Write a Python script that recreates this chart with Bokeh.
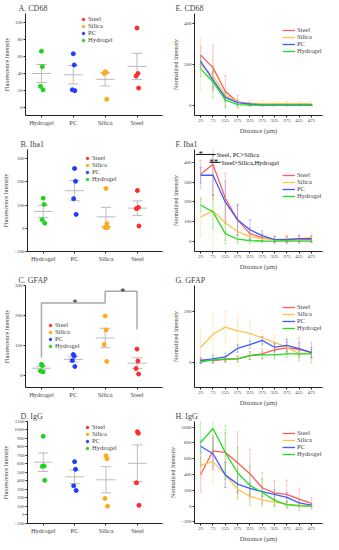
import numpy as np
from bokeh.plotting import figure
from bokeh.models import Range1d, FixedTicker, Legend, LegendItem
from bokeh.layouts import column, row
from bokeh.embed import file_html
from bokeh.resources import INLINE
from bokeh.core.properties import value

# ---------------- data ----------------
CATEGORIES = ["Hydrogel", "PC", "Silica", "Steel"]
SERIES = ["Steel", "Silica", "PC", "Hydrogel"]
DISTANCE = [25, 75, 125, 175, 225, 275, 325, 375, 425, 475]

# fluorescence intensity, individual animals (order follows CATEGORIES)
CD68_PTS = [[66, 48, 25, 21], [63, 50, 21, 20], [42, 41, 40, 10], [93, 40, 37, 23]]
IBA1_PTS = [[130, 103, 37, 22], [258, 203, 128, 60], [172, 20, 3, 3], [163, 90, 85, 10]]
GFAP_PTS = [[37, 33, 15, 12], [70, 65, 50, 30], [198, 152, 103, 47], [88, 48, 23, 5]]
IGG_PTS = [[925, 575, 570, 405], [625, 535, 340, 285], [695, 660, 190, 100], [980, 960, 375, 110]]

# significance brackets in GFAP panel
GFAP_SIG_FROM = [1, 3]
GFAP_SIG_TO = [3, 4]
GFAP_SIG_Y = [242, 281]
GFAP_SIG_FOOT_L = [60, 242]
GFAP_SIG_FOOT_R = [242, 153]
GFAP_SIG_STAR = ["*", "*"]

# normalized intensity vs distance (order follows SERIES)
CD68_NORM = [[245, 185, 70, 18, 5, 3, 3, 3, 3, 3],
             [200, 145, 50, 18, 12, 10, 10, 10, 10, 10],
             [215, 125, 40, 15, 8, 4, 3, 3, 3, 3],
             [180, 115, 28, 5, 3, 2, 2, 2, 2, 2]]
CD68_ERR = [[45, 110, 76, 32, 8, 5, 4, 4, 4, 4],
            [130, 80, 25, 15, 15, 15, 10, 10, 10, 10],
            [30, 40, 20, 10, 6, 4, 3, 3, 3, 3],
            [40, 78, 40, 10, 5, 3, 3, 3, 3, 3]]

IBA1_NORM = [[340, 390, 220, 110, 40, 20, 10, 8, 10, 10],
             [125, 155, 95, 50, 25, 15, 10, 15, 15, 20],
             [335, 335, 200, 110, 60, 30, 10, 10, 15, 15],
             [185, 150, 40, 12, 5, 3, 2, 2, 2, 2]]
IBA1_ERR = [[70, 175, 125, 80, 30, 20, 15, 20, 20, 15],
            [100, 250, 90, 60, 40, 25, 20, 20, 25, 25],
            [40, 100, 105, 75, 50, 25, 15, 15, 15, 15],
            [33, 85, 50, 15, 8, 5, 5, 5, 5, 5]]
IBA1_SIG_LABEL = ["Steel, PC>Silica", "Steel>Silica,Hydrogel"]
IBA1_SIG_STAR = ["*", "**"]
IBA1_SIG_STAR_X = [25, 78]
IBA1_SIG_X0 = [5, 61]
IBA1_SIG_X1 = [86, 106]
IBA1_SIG_Y = [440, 400]

GFAP_NORM = [[8, 5, 10, 12, 25, 32, 48, 55, 50, 38],
             [58, 109, 137, 122, 112, 95, 77, 58, 32, 36],
             [5, 12, 20, 53, 68, 85, 58, 65, 52, 37],
             [0, 8, 12, 12, 25, 28, 28, 32, 32, 32]]
GFAP_ERR = [[10, 10, 12, 12, 15, 20, 22, 25, 45, 40],
            [65, 80, 62, 58, 47, 30, 30, 30, 25, 20],
            [10, 15, 15, 15, 15, 15, 15, 25, 25, 20],
            [8, 10, 10, 12, 15, 15, 15, 15, 15, 15]]

IGG_NORM = [[400, 696, 680, 548, 410, 232, 167, 148, 87, 34],
            [517, 563, 395, 213, 125, 80, 50, 23, 11, 0],
            [757, 662, 395, 278, 224, 183, 148, 110, 42, 11],
            [802, 981, 680, 422, 262, 175, 72, 19, 4, 0]]
IGG_ERR = [[220, 200, 250, 390, 305, 190, 160, 180, 140, 75],
           [150, 270, 160, 130, 80, 60, 40, 30, 20, 10],
           [80, 200, 160, 100, 80, 60, 60, 60, 40, 20],
           [300, 265, 340, 320, 250, 170, 80, 30, 15, 5]]

# ---------------- style ----------------
FONT = "Liberation Serif"
DOT_COLORS = {"Steel": "#FF2A2A", "Silica": "#FFAA1A", "PC": "#1F3CFF", "Hydrogel": "#1FD21F"}
LINE_COLORS = {"Steel": "#FF5C5C", "Silica": "#FFC24D", "PC": "#3D5CFF", "Hydrogel": "#22DD22"}
JITTER = np.array([0.0, 0.03, -0.03, 0.05])
LW, RW = 166, 157
FRAME_H = 102


def style(p, title_offset):
    p.outline_line_color = None
    p.grid.visible = False
    p.title.text_font = FONT
    p.title.text_font_size = "8px"
    p.title.text_font_style = "normal"
    p.title.offset = title_offset
    p.title.standoff = 2
    for ax in p.axis:
        ax.axis_line_color = "#222222"
        ax.major_tick_line_color = "#222222"
        ax.minor_tick_line_color = None
        ax.major_tick_out = 2
        ax.major_tick_in = 0
        ax.major_label_text_font = FONT
        ax.major_label_text_font_size = "5px"
        ax.major_label_standoff = 1
        ax.axis_label_text_font = FONT
        ax.axis_label_text_font_style = "normal"
        ax.axis_label_text_font_size = "6px"
        ax.axis_label_standoff = 2


def make_legend(p, renderers, loc, glyph_w):
    items = [LegendItem(label=s, renderers=[renderers[s]]) for s in SERIES]
    lg = Legend(items=items, location=loc, background_fill_alpha=0, border_line_color=None,
                label_text_font=FONT, label_text_font_size="6.5px", label_height=6,
                glyph_height=6, glyph_width=glyph_w, spacing=0, padding=0, margin=0,
                label_standoff=2)
    p.add_layout(lg)


def left_panel(title, pts, yr, yticks, loc):
    p = figure(width=LW, frame_height=FRAME_H, x_range=Range1d(0.5, 4.8), y_range=Range1d(*yr),
               output_backend="svg", toolbar_location=None, title=title,
               min_border_left=20, min_border_right=4, min_border_top=0, min_border_bottom=0)
    style(p, -7)
    rends = {}
    for ci, cat in enumerate(CATEGORIES):
        vals = np.array(pts[ci], dtype=float)
        c = ci + 1
        m = vals.mean()
        s = vals.std(ddof=1) / np.sqrt(len(vals))
        p.segment([c - 0.3, c, c - 0.16, c - 0.16], [m, m - s, m - s, m + s],
                  [c + 0.3, c, c + 0.16, c + 0.16], [m, m + s, m - s, m + s],
                  line_color="#BBBBBB", line_width=1)
        rends[cat] = p.scatter(c + JITTER[:len(vals)], vals, size=4,
                               fill_color=DOT_COLORS[cat], line_color=DOT_COLORS[cat])
    p.xaxis.ticker = FixedTicker(ticks=[1, 2, 3, 4])
    p.xaxis.major_label_overrides = {i + 1: c for i, c in enumerate(CATEGORIES)}
    p.xaxis.major_label_text_font_size = "6.5px"
    p.yaxis.ticker = FixedTicker(ticks=yticks)
    p.yaxis.axis_label = "Fluorescence Intensity"
    make_legend(p, rends, loc, 6)
    return p


def right_panel(title, vals, errs, yr, yticks, loc):
    p = figure(width=RW, frame_height=FRAME_H, x_range=Range1d(0, 520), y_range=Range1d(*yr),
               output_backend="svg", toolbar_location=None, title=title,
               min_border_left=28, min_border_right=1, min_border_top=0, min_border_bottom=0)
    style(p, -19)
    x = np.array(DISTANCE, dtype=float)
    for si, s in enumerate(SERIES):
        v = np.array(vals[si], dtype=float)
        e = np.array(errs[si], dtype=float)
        col = LINE_COLORS[s]
        p.segment(x, v - e, x, v + e, line_color=col, line_alpha=0.35, line_width=1)
        p.segment(x - 5, v - e, x + 5, v - e, line_color=col, line_alpha=0.35, line_width=1)
        p.segment(x - 5, v + e, x + 5, v + e, line_color=col, line_alpha=0.35, line_width=1)
    rends = {}
    for si, s in enumerate(SERIES):
        rends[s] = p.line(DISTANCE, vals[si], line_color=LINE_COLORS[s], line_width=1.3)
    p.xaxis.ticker = FixedTicker(ticks=DISTANCE)
    p.yaxis.ticker = FixedTicker(ticks=yticks)
    p.xaxis.axis_label = "Distance (µm)"
    p.xaxis.axis_label_text_font_size = "6.5px"
    p.yaxis.axis_label = "Normalized Intensity"
    make_legend(p, rends, loc, 13)
    return p


pA = left_panel("A. CD68", CD68_PTS, (-9, 110), [0, 20, 40, 60, 80, 100], (55, 72))
pB = left_panel("B. Iba1", IBA1_PTS, (-100, 340), [-100, 0, 100, 200, 300], (57, 69))
pC = left_panel("C. GFAP", GFAP_PTS, (-40, 300), [0, 100, 200, 300], (22, 38))
pD = left_panel("D. IgG", IGG_PTS, (-105, 1100), list(range(-100, 1101, 100)), (57, 72))

for x0, x1, yb, fl, fr, st in zip(GFAP_SIG_FROM, GFAP_SIG_TO, GFAP_SIG_Y,
                                  GFAP_SIG_FOOT_L, GFAP_SIG_FOOT_R, GFAP_SIG_STAR):
    pC.line([x0, x0, x1, x1], [fl, yb, yb, fr], line_color="#AAAAAA", line_width=1.5)
    pC.text([(x0 + x1) / 2 + 0.05], [yb], text=[st], text_font=value(FONT),
            text_font_size="10px", text_align="center", text_baseline="alphabetic",
            text_color="#111111")

pE = right_panel("E. CD68", CD68_NORM, CD68_ERR, (-48, 448), [0, 200, 400], (88, 61))
pF = right_panel("F. Iba1", IBA1_NORM, IBA1_ERR, (-50, 465), [0, 100, 200, 300, 400], (88, 52))
pG = right_panel("G. GFAP", GFAP_NORM, GFAP_ERR, (-100, 300), [0, 200], (88, 56))
pH = right_panel("H. IgG", IGG_NORM, IGG_ERR, (-220, 1070), [-200, 0, 200, 400, 600, 800, 1000], (88, 66))

for lab, st, sx, x0, x1, y in zip(IBA1_SIG_LABEL, IBA1_SIG_STAR, IBA1_SIG_STAR_X,
                                  IBA1_SIG_X0, IBA1_SIG_X1, IBA1_SIG_Y):
    pF.segment([x0], [y], [x1], [y], line_color="#111111", line_width=1)
    pF.text([sx], [y], text=[st], text_font=value(FONT), text_font_size="9px",
            text_align="center", text_baseline="alphabetic", text_color="#111111")
    pF.text([x1 + 3], [y], text=[lab], text_font=value(FONT), text_font_size="6.5px",
            text_align="left", text_baseline="middle", text_color="#111111")

layout = column(row(pA, pE), row(pB, pF), row(pC, pG), row(pD, pH))

with open("out.html", "w") as f:
    f.write(file_html(layout, INLINE))
